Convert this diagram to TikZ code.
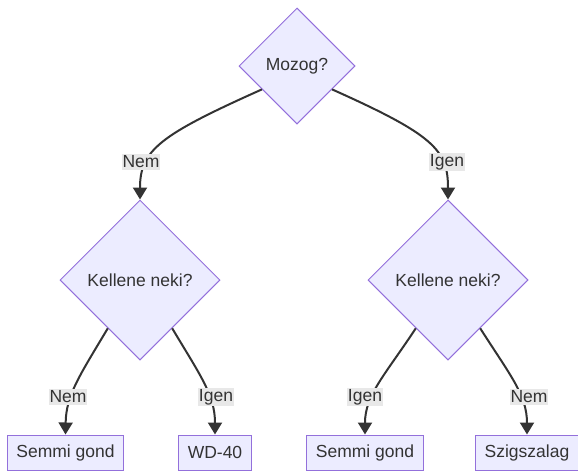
\documentclass[tikz,border=0pt]{standalone}
\usepackage{fontspec}
\setmainfont{Liberation Sans}
\usetikzlibrary{shapes.geometric,arrows.meta,calc}
\definecolor{nodefill}{HTML}{ECECFF}
\definecolor{nodeline}{HTML}{9370DB}
\definecolor{edgecol}{HTML}{333333}
\definecolor{lblbg}{HTML}{E8E8E8}
\definecolor{txt}{HTML}{333333}
\begin{document}
\begin{tikzpicture}[x=1pt,y=-1pt,
  every node/.style={font=\fontsize{17.5}{20}\selectfont, text=txt},
  decision/.style={diamond, draw=nodeline, fill=nodefill, line width=1pt, aspect=1, inner sep=0pt},
  leaf/.style={rectangle, draw=nodeline, fill=nodefill, line width=1pt, minimum height=35pt, inner xsep=9pt, inner ysep=0pt},
  elabel/.style={fill=lblbg, inner xsep=1pt, inner ysep=1.5pt},
  conn/.style={draw=edgecol, line width=2pt, -{Triangle[length=12pt,width=14pt]}}]
\useasboundingbox (0,0) rectangle (578,472);
% decisions
\node[decision, minimum size=116pt] (mozog) at (297,66) {Mozog?};
\node[decision, minimum size=160pt] (k1) at (140,280) {Kellene neki?};
\node[decision, minimum size=160pt] (k2) at (448,280) {Kellene neki?};
% leaves
\node[leaf] (l1) at (65.5,452.5) {Semmi gond};
\node[leaf] (l2) at (215,452.5) {WD-40};
\node[leaf] (l3) at (365,452.5) {Semmi gond};
\node[leaf] (l4) at (527,452.5) {Szigszalag};
% edges
\draw[conn] ($(mozog.west)!0.4!(mozog.south)$) .. controls (160,135) and (140,150) .. (k1.north);
\draw[conn] ($(mozog.east)!0.4!(mozog.south)$) .. controls (434,135) and (448,150) .. (k2.north);
\draw[conn] ($(k1.west)!0.6!(k1.south)$) .. controls (80,375) and (66,395) .. (l1.north);
\draw[conn] ($(k1.east)!0.6!(k1.south)$) .. controls (200,375) and (215,395) .. (l2.north);
\draw[conn] ($(k2.west)!0.6!(k2.south)$) .. controls (385,375) and (365,395) .. (l3.north);
\draw[conn] ($(k2.east)!0.6!(k2.south)$) .. controls (510,375) and (527,395) .. (l4.north);
% edge labels
\node[elabel] (e1) at (141,162) {Nem};
\node[elabel] (e2) at (447,162) {Igen};
\node[elabel] (e3) at (68,397) {Nem};
\node[elabel] (e4) at (216,397) {Igen};
\node[elabel] (e5) at (365,397) {Igen};
\node[elabel] (e6) at (529,397) {Nem};
\end{tikzpicture}
\end{document}
